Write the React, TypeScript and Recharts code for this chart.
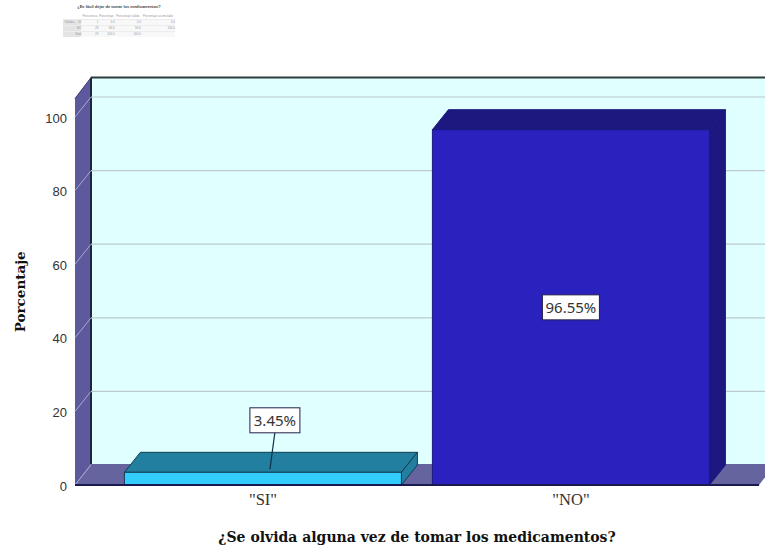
import { Bar, BarChart, LabelList, ReferenceArea, ReferenceLine, XAxis, YAxis } from "recharts";

const categories = ['"SI"', '"NO"'];
const percentages = [3.45, 96.55];
const yTicks = [0, 20, 40, 60, 80, 100];

// Small frequency table printed above the chart
const tableTitle = "¿Es fácil dejar de tomar los medicamentos?";
const tableHeader = ["", "", "Frecuencia", "Porcentaje", "Porcentaje válido", "Porcentaje acumulado"];
const tableRows = [
    ["Válidos", "SI", "1", "3.4", "3.4", "3.4"],
    ["", "NO", "28", "96.6", "96.6", "100.0"],
    ["", "Total", "29", "100.0", "100.0", ""],
];

const data = categories.map((name, i) => ({ name, value: percentages[i] }));

// Front / top-and-side colours of each bar
const FRONT = ["#33ccff", "#2b21be"];
const SHADE = ["#237f9f", "#1c1880"];
const EDGE = ["#123c50", "#1c1880"];

// Offset of the back of the 3D box
const DX = 16;
const DY = 20;
const WALL_DY = 21;

// Space between the box edges and the category bands
const PAD_LEFT = 34;
const PAD_RIGHT = 34;

const Walls = (props: any) => {
    const { y, height } = props;
    // the area spans the padded band range, the box spans the whole plot
    const x = props.x - PAD_LEFT;
    const right = props.x + props.width + PAD_RIGHT;
    const bottom = y + height;
    return (
        <g>
            <rect x={x + DX} y={y - WALL_DY} width={right - x} height={height} fill="#e0ffff" />
            <polygon
                points={`${x},${bottom} ${x + DX},${bottom - WALL_DY} ${x + DX},${y - WALL_DY} ${x},${y}`}
                fill="#5c5a9c"
            />
            <polygon
                points={`${x},${bottom} ${right},${bottom} ${right + DX},${bottom - WALL_DY} ${x + DX},${bottom - WALL_DY}`}
                fill="#66649e"
            />
            <line x1={x + DX} y1={y - WALL_DY} x2={right + DX} y2={y - WALL_DY} stroke="#2c3c3c" strokeWidth={2} />
            <line x1={x + DX} y1={y - WALL_DY} x2={x + DX} y2={bottom - WALL_DY} stroke="#1c2440" strokeWidth={2} />
            <line x1={x} y1={y} x2={x + DX} y2={y - WALL_DY} stroke="#3c3c74" strokeWidth={1} />
        </g>
    );
};

// Grid line that runs up the left wall, then along the back wall
const WallGridLine = (props: any) => {
    const { x1, y1, x2 } = props;
    const backY = y1 - DY;
    return (
        <g>
            <line x1={x1} y1={y1} x2={x1 + DX} y2={backY} stroke="#a9a8d0" strokeWidth={1} />
            {y1 < 480 && <line x1={x1 + DX} y1={backY} x2={x2 + DX} y2={backY} stroke="#bccaca" strokeWidth={1.2} />}
        </g>
    );
};

const Bar3D = (props: any) => {
    const { x, y, width, height, index } = props;
    const right = x + width;
    const bottom = y + height;
    return (
        <g stroke={EDGE[index]} strokeWidth={1} strokeLinejoin="round">
            <polygon
                points={`${x},${y} ${x + DX},${y - DY} ${right + DX},${y - DY} ${right},${y}`}
                fill={SHADE[index]}
            />
            <polygon
                points={`${right},${y} ${right + DX},${y - DY} ${right + DX},${bottom - DY} ${right},${bottom}`}
                fill={SHADE[index]}
            />
            <rect x={x} y={y} width={width} height={height} fill={FRONT[index]} />
        </g>
    );
};

const PercentLabel = (props: any) => {
    const { x, y, width, height } = props.viewBox ?? props;
    const text = `${props.value}%`;
    const small = height < 40;
    const cx = x + width / 2 + (small ? 12 : 0);
    const cy = small ? y - 52 : y + height / 2;
    const boxW = small ? 50 : 57;
    return (
        <g>
            {small && <line x1={cx} y1={cy + 12} x2={cx - 5} y2={y - 3} stroke="#14304a" strokeWidth={1.2} />}
            <rect x={cx - boxW / 2} y={cy - 12.5} width={boxW} height={25} fill="#fff" stroke="#20204a" strokeWidth={1} />
            <text x={cx} y={cy + 5.5} textAnchor="middle" fontFamily="'Noto Sans'" fontSize={15} fill="#333">
                {text}
            </text>
        </g>
    );
};

const FrequencyTable = () => (
    <div style={{ position: "absolute", left: 63, top: 3, width: 112, color: "#999", fontFamily: "'Liberation Sans'" }}>
        <div style={{ fontSize: 4, fontWeight: "bold", textAlign: "center", lineHeight: "7px", color: "#444", marginBottom: 4 }}>{tableTitle}</div>
        <table style={{ width: "100%", borderCollapse: "collapse", fontSize: 3, lineHeight: "5px", textAlign: "right" }}>
            <tbody>
                <tr>
                    {tableHeader.map((h, i) => <td key={i} style={{ textAlign: "center", padding: 0 }}>{h}</td>)}
                </tr>
                {tableRows.map((row, r) => (
                    <tr key={r} style={{ borderTop: "1px solid #ececec" }}>
                        {row.map((c, i) => (
                            <td key={i} style={{ background: i < 2 ? "#e4e4e4" : "#f8f8f8", padding: 0 }}>{c}</td>
                        ))}
                    </tr>
                ))}
            </tbody>
        </table>
    </div>
);

export default function App() {
    return (
        <div style={{ position: "absolute", left: 0, top: 0, width: 765, height: 552, overflow: "hidden", background: "#fff" }}>
            <FrequencyTable />
            <BarChart
                width={765}
                height={552}
                data={data}
                barCategoryGap="5%"
                margin={{ top: 98.6, right: 6, bottom: 0, left: 0 }}
            >
                <XAxis
                    dataKey="name"
                    padding={{ left: PAD_LEFT, right: PAD_RIGHT }}
                    axisLine={false}
                    tickLine={false}
                    tickSize={0}
                    tickMargin={8}
                    height={67}
                    interval={0}
                    tick={{ fontFamily: "'Liberation Serif'", fontSize: 16.5, fill: "#333" }}
                    label={{
                        value: "¿Se olvida alguna vez de tomar los medicamentos?",
                        position: "insideBottom",
                        offset: 10,
                        style: { fontFamily: "'DejaVu Serif'", fontWeight: "bold", fontSize: 14, fill: "#111" },
                    }}
                />
                <YAxis
                    domain={[0, 105]}
                    ticks={yTicks}
                    width={75}
                    axisLine={false}
                    tickLine={false}
                    tickSize={0}
                    tickMargin={8}
                    tick={{ fontFamily: "'Liberation Sans'", fontSize: 13, fill: "#333", dy: 1 }}
                    label={{
                        value: "Porcentaje",
                        angle: -90,
                        position: "insideLeft",
                        offset: 20,
                        style: { fontFamily: "'DejaVu Serif'", fontWeight: "bold", fontSize: 13.5, fill: "#111", textAnchor: "middle" },
                    }}
                />
                <ReferenceArea y1={0} y2={105} shape={Walls} />
                {yTicks.map((t) => (
                    <ReferenceLine key={t} y={t} shape={WallGridLine} zIndex={200} />
                ))}
                <ReferenceLine y={0} stroke="#1a1a50" strokeWidth={2} />
                <Bar dataKey="value" shape={Bar3D} isAnimationActive={false}>
                    <LabelList dataKey="value" content={PercentLabel} />
                </Bar>
            </BarChart>
        </div>
    );
}
